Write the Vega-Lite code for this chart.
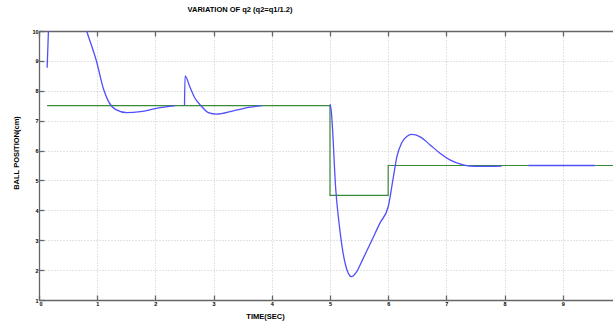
{
  "$schema": "https://vega.github.io/schema/vega-lite/v6.json",
  "width": 574,
  "height": 269,
  "autosize": {"type": "none"},
  "padding": {"left": 39, "top": 31, "right": 0, "bottom": 22},
  "background": "white",
  "config": {"view": {"stroke": null}, "font": "Liberation Sans"},
  "title": {"text": "VARIATION OF q2 (q2=q1/1.2)", "fontSize": 7.5, "fontWeight": "bold", "font": "Liberation Sans", "color": "#000", "anchor": "middle", "dx": -86, "offset": 16},
  "datasets": {
    "ref": [
      {"i": 0, "t": 0.14, "v": 7.5},
      {"i": 1, "t": 5.0, "v": 7.5},
      {"i": 2, "t": 5.0, "v": 4.5},
      {"i": 3, "t": 6.0, "v": 4.5},
      {"i": 4, "t": 6.0, "v": 5.5},
      {"i": 5, "t": 9.9, "v": 5.5}
    ],
    "ball": [
      {"s": "a", "i": 0, "t": 0.14, "v": 8.77},
      {"s": "a", "i": 1, "t": 0.155, "v": 9.6},
      {"s": "a", "i": 2, "t": 0.17, "v": 10.3},
      {"s": "a", "i": 3, "t": 0.3, "v": 11.2},
      {"s": "a", "i": 4, "t": 0.5, "v": 11.5},
      {"s": "a", "i": 5, "t": 0.7, "v": 10.8},
      {"s": "a", "i": 6, "t": 0.82, "v": 10.0},
      {"s": "a", "i": 8, "t": 0.99, "v": 8.97},
      {"s": "a", "i": 9, "t": 1.11, "v": 8.05},
      {"s": "a", "i": 10, "t": 1.2, "v": 7.62},
      {"s": "a", "i": 12, "t": 1.32, "v": 7.37},
      {"s": "a", "i": 13, "t": 1.51, "v": 7.27},
      {"s": "a", "i": 14, "t": 1.74, "v": 7.3},
      {"s": "a", "i": 15, "t": 2.02, "v": 7.41},
      {"s": "a", "i": 16, "t": 2.34, "v": 7.5},
      {"s": "b", "i": 17, "t": 2.5, "v": 7.5},
      {"s": "b", "i": 18, "t": 2.51, "v": 8.5},
      {"s": "b", "i": 19, "t": 2.59, "v": 8.14},
      {"s": "b", "i": 20, "t": 2.68, "v": 7.75},
      {"s": "b", "i": 21, "t": 2.77, "v": 7.53},
      {"s": "b", "i": 22, "t": 2.91, "v": 7.27},
      {"s": "b", "i": 23, "t": 3.05, "v": 7.22},
      {"s": "b", "i": 24, "t": 3.34, "v": 7.33},
      {"s": "b", "i": 25, "t": 3.63, "v": 7.45},
      {"s": "b", "i": 26, "t": 3.83, "v": 7.5},
      {"s": "c", "i": 27, "t": 5.0, "v": 7.55},
      {"s": "c", "i": 28, "t": 5.02, "v": 7.35},
      {"s": "c", "i": 29, "t": 5.1, "v": 4.68},
      {"s": "c", "i": 30, "t": 5.17, "v": 3.34},
      {"s": "c", "i": 31, "t": 5.26, "v": 2.23},
      {"s": "c", "i": 32, "t": 5.37, "v": 1.78},
      {"s": "c", "i": 33, "t": 5.46, "v": 1.95},
      {"s": "c", "i": 34, "t": 5.56, "v": 2.35},
      {"s": "c", "i": 35, "t": 5.72, "v": 3.0},
      {"s": "c", "i": 36, "t": 5.86, "v": 3.58},
      {"s": "c", "i": 37, "t": 6.0, "v": 4.12},
      {"s": "c", "i": 38, "t": 6.09, "v": 5.13},
      {"s": "c", "i": 39, "t": 6.15, "v": 5.8},
      {"s": "c", "i": 40, "t": 6.23, "v": 6.25},
      {"s": "c", "i": 41, "t": 6.32, "v": 6.47},
      {"s": "c", "i": 42, "t": 6.4, "v": 6.54},
      {"s": "c", "i": 43, "t": 6.55, "v": 6.46},
      {"s": "c", "i": 44, "t": 6.72, "v": 6.19},
      {"s": "c", "i": 45, "t": 6.89, "v": 5.91},
      {"s": "c", "i": 46, "t": 7.06, "v": 5.69},
      {"s": "c", "i": 47, "t": 7.26, "v": 5.54},
      {"s": "c", "i": 48, "t": 7.4, "v": 5.48},
      {"s": "c", "i": 49, "t": 7.6, "v": 5.47},
      {"s": "c", "i": 50, "t": 7.95, "v": 5.48},
      {"s": "d", "i": 51, "t": 8.41, "v": 5.5},
      {"s": "d", "i": 52, "t": 9.55, "v": 5.5}
    ]
  },
  "layer": [
    {
      "data": {"name": "ref"},
      "mark": {"type": "line", "color": "#3a8a3a", "strokeWidth": 1.2, "clip": true},
      "encoding": {
        "x": {
          "field": "t", "type": "quantitative",
          "scale": {"domain": [0, 9.863], "nice": false, "zero": false},
          "axis": {
            "orient": "bottom", "values": [0, 1, 2, 3, 4, 5, 6, 7, 8, 9],
            "grid": true, "gridColor": "#c8c8c8", "gridDash": [1, 2], "gridWidth": 1,
            "domainColor": "#666", "domainWidth": 1.3, "tickColor": "#666", "tickWidth": 1.3,
            "tickSize": -5, "labelPadding": 6, "labelFontSize": 5.5, "labelColor": "#000",
            "labelFont": "Liberation Sans", "labelFontWeight": "bold",
            "title": "TIME(SEC)", "titleFontSize": 7.5, "titleFontWeight": "bold", "titleColor": "#000",
            "titleFont": "Liberation Sans", "titleX": 226, "titleY": 16, "titleBaseline": "middle"
          }
        },
        "y": {
          "field": "v", "type": "quantitative",
          "scale": {"domain": [1, 10], "nice": false, "zero": false},
          "axis": {
            "orient": "left", "values": [1, 2, 3, 4, 5, 6, 7, 8, 9, 10],
            "grid": true, "gridColor": "#c8c8c8", "gridDash": [1, 2], "gridWidth": 1,
            "domainColor": "#666", "domainWidth": 1.3, "tickColor": "#666", "tickWidth": 1.3,
            "tickSize": -5, "labelPadding": 6, "labelFontSize": 5.5, "labelColor": "#000",
            "labelFont": "Liberation Sans", "labelFontWeight": "bold",
            "title": "BALL POSITION(cm)", "titleFontSize": 7.5, "titleFontWeight": "bold", "titleColor": "#000",
            "titleFont": "Liberation Sans", "titleX": -23, "titleY": 121.5, "titleBaseline": "middle"
          }
        },
        "order": {"field": "i", "type": "quantitative"}
      }
    },
    {
      "data": {"name": "ball"},
      "mark": {"type": "line", "color": "#5050fa", "strokeWidth": 1.3, "clip": true, "interpolate": "monotone"},
      "encoding": {
        "x": {
          "field": "t", "type": "quantitative",
          "axis": {
            "orient": "top", "values": [0, 1, 2, 3, 4, 5, 6, 7, 8, 9],
            "grid": false, "labels": false, "title": null,
            "domainColor": "#666", "domainWidth": 1.3, "tickColor": "#666", "tickWidth": 1.3,
            "tickSize": -5
          }
        },
        "y": {
          "field": "v", "type": "quantitative",
          "axis": {
            "orient": "left", "values": [1, 2, 3, 4, 5, 6, 7, 8, 9, 10],
            "grid": true, "gridColor": "#c8c8c8", "gridDash": [1, 2], "gridWidth": 1,
            "domainColor": "#666", "domainWidth": 1.3, "tickColor": "#666", "tickWidth": 1.3,
            "tickSize": -5, "labelPadding": 6, "labelFontSize": 5.5, "labelColor": "#000",
            "labelFont": "Liberation Sans", "labelFontWeight": "bold",
            "title": "BALL POSITION(cm)", "titleFontSize": 7.5, "titleFontWeight": "bold", "titleColor": "#000",
            "titleFont": "Liberation Sans", "titleX": -23, "titleY": 121.5, "titleBaseline": "middle"
          }
        },
        "detail": {"field": "s", "type": "nominal"},
        "order": {"field": "i", "type": "quantitative"}
      }
    }
  ]
}
